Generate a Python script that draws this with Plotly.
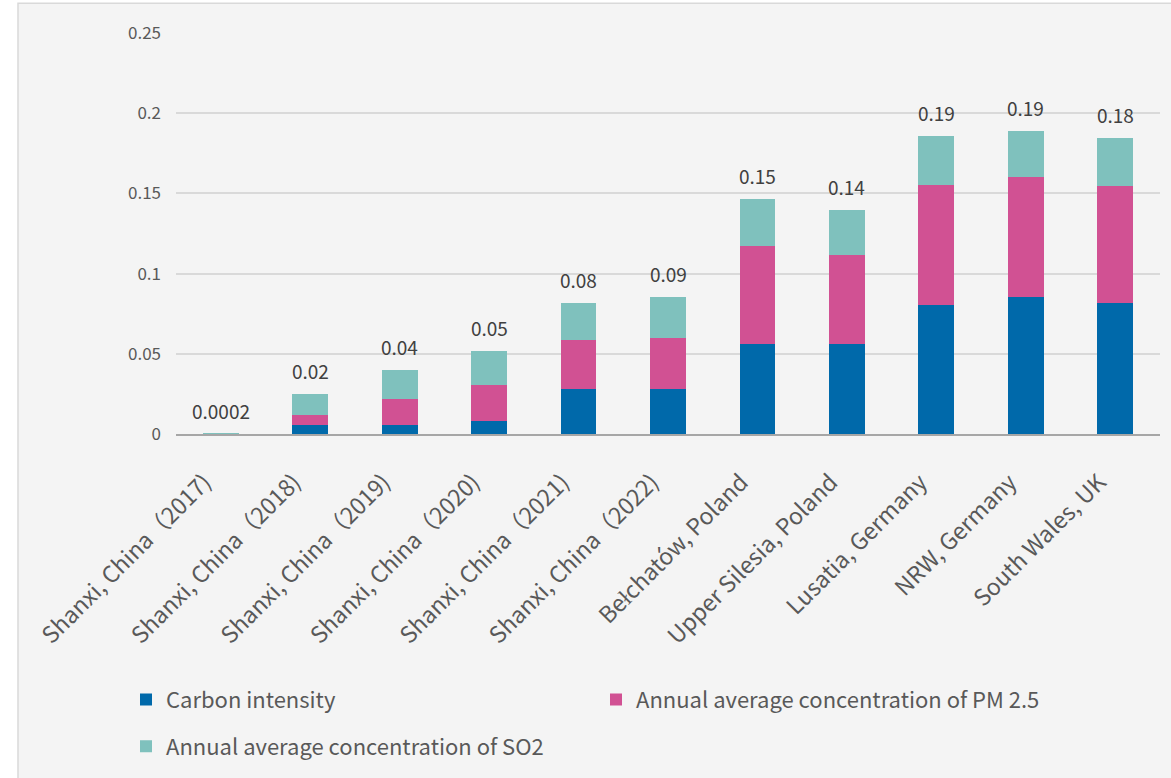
import plotly.graph_objects as go

categories = [
    "Shanxi, China（2017)", "Shanxi, China（2018)", "Shanxi, China（2019)",
    "Shanxi, China（2020)", "Shanxi, China（2021)", "Shanxi, China（2022)",
    "Bełchatów, Poland", "Upper Silesia, Poland", "Lusatia, Germany",
    "NRW, Germany", "South Wales, UK",
]
carbon_intensity = [0.0001, 0.0054, 0.0054, 0.0079, 0.0281, 0.0281, 0.0564, 0.0564, 0.0807, 0.0857, 0.0818]
pm25 = [0.00005, 0.0062, 0.0165, 0.0226, 0.0303, 0.0316, 0.0609, 0.0553, 0.0744, 0.0744, 0.0727]
so2 = [0.00005, 0.0132, 0.0182, 0.0211, 0.0232, 0.0255, 0.0291, 0.0277, 0.0306, 0.0289, 0.0301]

totals = [a + b + c for a, b, c in zip(carbon_intensity, pm25, so2)]
total_labels = [f"{t:.4f}" if t < 0.005 else f"{t:.2f}" for t in totals]

BLUE = "#0069AA"
PINK = "#D15193"
TEAL = "#7FC1BD"
TEXT = "#595959"
FONT = "Noto Sans CJK JP"

fig = go.Figure()
fig.add_trace(go.Bar(x=categories, y=carbon_intensity, name="Carbon intensity",
                     marker=dict(color=BLUE, line=dict(width=0)), legend="legend"))
fig.add_trace(go.Bar(x=categories, y=pm25, name="Annual average concentration of PM 2.5",
                     marker=dict(color=PINK, line=dict(width=0)), legend="legend"))
fig.add_trace(go.Bar(x=categories, y=so2, name="Annual average concentration of SO2",
                     marker=dict(color=TEAL, line=dict(width=0)), legend="legend2"))

# total value labels above each stack
for cat, tot, lab in zip(categories, totals, total_labels):
    fig.add_annotation(x=cat, y=tot, text=lab, showarrow=False, yanchor="bottom",
                       yshift=8, font=dict(family=FONT, size=19, color="#404040"))

W, H = 1171, 778
L, R, T, B = 176, 11, 33, 342
pw, ph = W - L - R, H - T - B


def px_x(p):
    return (p - L) / pw


def px_y(p):
    return (H - B - p) / ph


# chart frame
fig.add_shape(type="rect", xref="paper", yref="paper",
              x0=px_x(18), x1=px_x(W + 5), y0=px_y(3), y1=px_y(H + 5),
              fillcolor="#F4F4F4", line=dict(color="#D9D9D9", width=1.5), layer="below")

fig.update_layout(
    width=W, height=H,
    margin=dict(l=L, r=R, t=T, b=B),
    paper_bgcolor="white",
    plot_bgcolor="rgba(0,0,0,0)",
    barmode="stack",
    bargap=0.6,
    font=dict(family=FONT, color=TEXT),
    showlegend=True,
    legend=dict(orientation="h", x=px_x(126), y=px_y(682), xanchor="left", yanchor="top",
                entrywidth=425, entrywidthmode="pixels", bgcolor="rgba(0,0,0,0)",
                font=dict(family=FONT, size=22, color=TEXT), traceorder="normal"),
    legend2=dict(orientation="h", x=px_x(126), y=px_y(729), xanchor="left", yanchor="top",
                 bgcolor="rgba(0,0,0,0)", font=dict(family=FONT, size=22, color=TEXT)),
)
fig.update_yaxes(range=[0, 0.25], tickvals=[0, 0.05, 0.1, 0.15, 0.2, 0.25],
                 ticktext=["0", "0.05", "0.1", "0.15", "0.2", "0.25"],
                 showgrid=True, gridcolor="#D9D9D9", gridwidth=1.5,
                 zeroline=False, showline=False, ticks="", ticklabelstandoff=14,
                 tickfont=dict(family=FONT, size=17, color=TEXT))
fig.update_xaxes(tickangle=-45, showline=True, linecolor="#A6A6A6", linewidth=1.5,
                 ticks="", ticklabelshift=-16, ticklabelstandoff=24,
                 tickfont=dict(family=FONT, size=23, color=TEXT))

fig.write_html("out.html")
